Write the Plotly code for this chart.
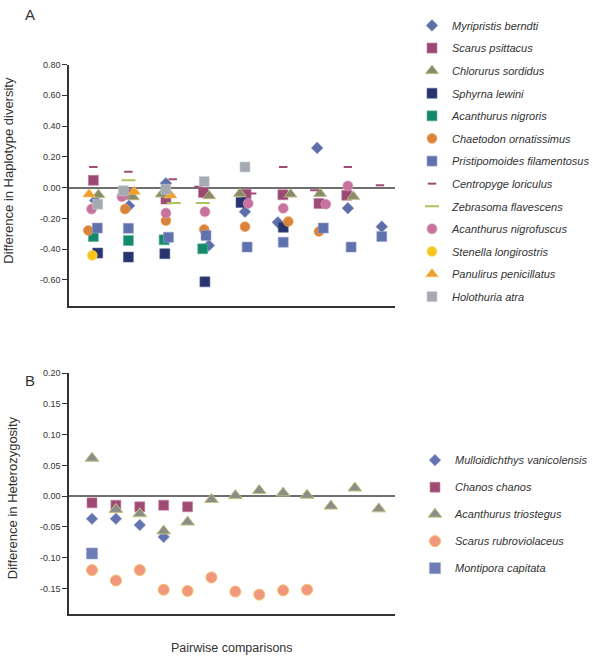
import plotly.graph_objects as go

FONT = "Liberation Sans, Arial, sans-serif"
W, H = 596, 659

# ---------------- Panel A data (x = pairwise comparison index, y = difference in haplotype diversity)
myripristis_x = [1.06, 2.00, 3.02, 4.21, 5.21, 6.12, 7.21, 8.06, 9.00]
myripristis_y = [-0.084, -0.118, 0.028, -0.376, -0.157, -0.226, 0.258, -0.134, -0.254]
scarus_ps_x = [1.01, 1.98, 3.02, 4.06, 5.24, 6.26, 7.26, 8.03]
scarus_ps_y = [0.047, -0.043, -0.075, -0.032, -0.043, -0.047, -0.103, -0.050]
chlorurus_x = [1.15, 2.11, 2.90, 4.22, 5.07, 6.47, 7.29, 8.21]
chlorurus_y = [-0.047, -0.061, -0.043, -0.054, -0.039, -0.043, -0.039, -0.058]
sphyrna_x = [1.13, 1.98, 2.99, 4.10, 5.10, 6.27]
sphyrna_y = [-0.426, -0.452, -0.430, -0.613, -0.097, -0.258]
nigroris_x = [1.01, 1.98, 2.97, 4.04]
nigroris_y = [-0.318, -0.344, -0.340, -0.398]
chaetodon_x = [0.87, 1.89, 3.02, 4.08, 5.21, 6.41, 7.26]
chaetodon_y = [-0.279, -0.140, -0.215, -0.273, -0.254, -0.221, -0.286]
pristipomoides_x = [1.12, 1.98, 3.09, 4.13, 5.27, 6.27, 7.38, 8.15, 9.00]
pristipomoides_y = [-0.263, -0.265, -0.323, -0.312, -0.387, -0.355, -0.263, -0.387, -0.318]
centropyge_x = [1.01, 1.98, 3.21, 3.92, 5.41, 6.27, 7.13, 8.06, 8.95]
centropyge_y = [0.134, 0.103, 0.054, 0.005, -0.039, 0.134, -0.017, 0.134, 0.015]
zebrasoma_x = [1.98, 3.24, 4.04]
zebrasoma_y = [0.047, -0.101, -0.101]
nigrofuscus_x = [0.96, 1.80, 3.02, 4.10, 5.30, 6.27, 7.45, 8.06]
nigrofuscus_y = [-0.140, -0.060, -0.166, -0.157, -0.103, -0.135, -0.108, 0.011]
stenella_x = [0.98]
stenella_y = [-0.441]
panulirus_x = [0.89, 2.14, 3.15]
panulirus_y = [-0.043, -0.026, -0.050]
holothuria_x = [1.13, 1.84, 3.02, 4.08, 5.21]
holothuria_y = [-0.108, -0.021, -0.011, 0.039, 0.134]

a_tickvals = [0.80, 0.60, 0.40, 0.20, 0.00, -0.20, -0.40, -0.60]
a_ticktext = ["0.80", "0.60", "0.40", "0.20", "0.00", "-0.20", "-0.40", "-0.60"]

# ---------------- Panel B data (difference in heterozygosity)
mulloid_x = [1, 2, 3, 4]
mulloid_y = [-0.0366, -0.0366, -0.0468, -0.0661]
chanos_x = [1, 2, 3, 4, 5]
chanos_y = [-0.0108, -0.0145, -0.0173, -0.0145, -0.0173]
triostegus_x = [1, 2, 3, 4, 5, 6, 7, 8, 9, 10, 11, 12, 13]
triostegus_y = [0.0618, -0.0215, -0.0285, -0.0565, -0.042, -0.0053, 0.001,
                0.0092, 0.0053, 0.0016, -0.016, 0.0134, -0.0205]
rubro_x = [1, 2, 3, 4, 5, 6, 7, 8, 9, 10]
rubro_y = [-0.120, -0.137, -0.120, -0.152, -0.154, -0.132, -0.155, -0.160, -0.153, -0.152]
montipora_x = [1]
montipora_y = [-0.093]

b_tickvals = [0.20, 0.15, 0.10, 0.05, 0.00, -0.05, -0.10, -0.15]
b_ticktext = ["0.20", "0.15", "0.10", "0.05", "0.00", "-0.05", "-0.10", "-0.15"]

fig = go.Figure()


def add(x, y, name, symbol, size, color, edge, edgew, panel):
    fig.add_trace(go.Scatter(
        x=x, y=y, mode="markers", name=name, legendgroup=name,
        marker=dict(symbol=symbol, size=size, color=color,
                    line=dict(color=edge, width=edgew)),
        xaxis="x" if panel == "A" else "x2",
        yaxis="y" if panel == "A" else "y2",
        legend="legend" if panel == "A" else "legend2",
        hoverinfo="name+y",
    ))


add(myripristis_x, myripristis_y, "Myripristis berndti", "diamond", 9, "#5E6EA8", "#8592c0", 0.6, "A")
add(scarus_ps_x, scarus_ps_y, "Scarus psittacus", "square", 10, "#9C4A74", "#c07a9c", 0.6, "A")
add(chlorurus_x, chlorurus_y, "Chlorurus sordidus", "triangle-up", 11, "#878B6C", "#b8b47a", 1, "A")
add(sphyrna_x, sphyrna_y, "Sphyrna lewini", "square", 10, "#27346E", "#5b6596", 0.6, "A")
add(nigroris_x, nigroris_y, "Acanthurus nigroris", "square", 10, "#138A6B", "#5fb59c", 0.6, "A")
add(chaetodon_x, chaetodon_y, "Chaetodon ornatissimus", "circle", 10, "#D9843A", "#eeb070", 0.6, "A")
add(pristipomoides_x, pristipomoides_y, "Pristipomoides filamentosus", "square", 10, "#6072AE", "#97a3cc", 0.6, "A")
add(centropyge_x, centropyge_y, "Centropyge loriculus", "line-ew", 6, "#A04B75", "#A04B75", 2, "A")
add(zebrasoma_x, zebrasoma_y, "Zebrasoma flavescens", "line-ew", 10, "#A9C45C", "#A9C45C", 2, "A")
add(nigrofuscus_x, nigrofuscus_y, "Acanthurus nigrofuscus", "circle", 10, "#C8729E", "#dea0bf", 0.6, "A")
add(stenella_x, stenella_y, "Stenella longirostris", "circle", 10, "#F6C51C", "#fadc70", 0.6, "A")
add(panulirus_x, panulirus_y, "Panulirus penicillatus", "triangle-up", 11, "#EE9F2C", "#f5c06e", 0.6, "A")
add(holothuria_x, holothuria_y, "Holothuria atra", "square", 10, "#A5A9B1", "#c9ccd2", 0.6, "A")

add(mulloid_x, mulloid_y, "Mulloidichthys vanicolensis", "diamond", 9, "#6474B0", "#95a0cc", 0.6, "B")
add(chanos_x, chanos_y, "Chanos chanos", "square", 10, "#9E4A72", "#c587a5", 0.6, "B")
add(triostegus_x, triostegus_y, "Acanthurus triostegus", "triangle-up", 12, "#8A8E88", "#c8c07c", 1, "B")
add(rubro_x, rubro_y, "Scarus rubroviolaceus", "circle", 11, "#F0977E", "#f6bf66", 1, "B")
add(montipora_x, montipora_y, "Montipora capitata", "square", 11, "#6E7DB5", "#9aa5cf", 0.6, "B")


def py(p):
    return 1 - p / H


xdom = [69 / W, 395 / W]
axis_common = dict(showgrid=False, showline=True, linecolor="#333333", linewidth=1.5)
yaxis_common = dict(axis_common, ticks="outside", ticklen=5, tickwidth=1, tickcolor="#333333",
                    tickfont=dict(family=FONT, size=9, color="#333333"),
                    zeroline=True, zerolinecolor="#6e6e6e", zerolinewidth=1.5)

legend_font = dict(family=FONT, size=11, color="#333333", style="italic")

fig.update_layout(
    width=W, height=H,
    margin=dict(l=0, r=0, t=0, b=0),
    paper_bgcolor="white", plot_bgcolor="white",
    xaxis=dict(axis_common, domain=xdom, range=[0.335, 9.366], showticklabels=False,
               ticks="", zeroline=False, anchor="y"),
    yaxis=dict(yaxis_common, domain=[py(303), py(60)], range=[-0.768, 0.80],
               tickvals=a_tickvals, ticktext=a_ticktext, anchor="x"),
    xaxis2=dict(axis_common, domain=xdom, range=[0.038, 13.68], showticklabels=False,
                ticks="", zeroline=False, anchor="y2"),
    yaxis2=dict(yaxis_common, domain=[py(614), py(371)], range=[-0.192, 0.20],
                tickvals=b_tickvals, ticktext=b_ticktext, anchor="x2"),
    legend=dict(x=412 / W, xanchor="left", y=py(6), yanchor="top", font=legend_font,
                traceorder="grouped", tracegroupgap=3.6, bgcolor="rgba(0,0,0,0)"),
    legend2=dict(x=415 / W, xanchor="left", y=py(444), yanchor="top", font=legend_font,
                 traceorder="grouped", tracegroupgap=8, bgcolor="rgba(0,0,0,0)"),
    showlegend=True,
    annotations=[
        dict(text="A", x=30 / W, y=py(10), xref="paper", yref="paper", showarrow=False,
             xanchor="center", yanchor="middle", font=dict(family=FONT, size=15, color="#333333")),
        dict(text="B", x=30 / W, y=py(378), xref="paper", yref="paper", showarrow=False,
             xanchor="center", yanchor="middle", font=dict(family=FONT, size=15, color="#333333")),
        dict(text="Difference in Haplotype diversity", x=9 / W, y=py(167), xref="paper", yref="paper",
             showarrow=False, textangle=-90, xanchor="center", yanchor="middle",
             font=dict(family=FONT, size=13, color="#333333")),
        dict(text="Difference in Heterozygosity", x=12 / W, y=py(497), xref="paper", yref="paper",
             showarrow=False, textangle=-90, xanchor="center", yanchor="middle",
             font=dict(family=FONT, size=13, color="#333333")),
        dict(text="Pairwise comparisons", x=232 / W, y=py(648), xref="paper", yref="paper",
             showarrow=False, xanchor="center", yanchor="middle",
             font=dict(family=FONT, size=12.5, color="#333333")),
    ],
)

fig.write_html("out.html",
               config={"displayModeBar": False},
               post_script="document.body.style.margin='0px';document.body.style.overflow='hidden';")
